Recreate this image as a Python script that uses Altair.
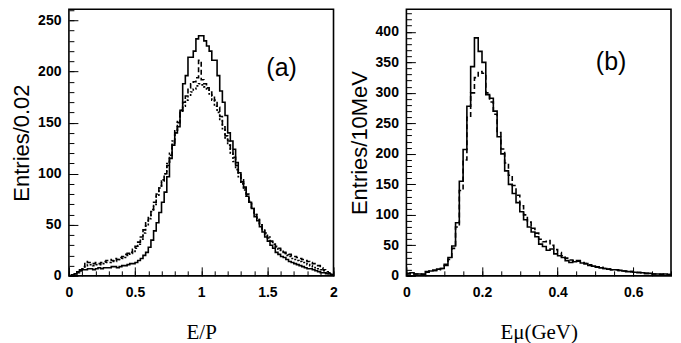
import altair as alt
import pandas as pd

# ---------------- data ----------------
EP_BIN = 0.02      # E/P histogram bin width
EMU_BIN = 0.01     # E_mu histogram bin width (GeV)

ep_solid = [0, 1, 2, 4, 5, 6, 6, 7, 7, 6,
            7, 8, 7, 8, 8, 8, 9, 9, 8, 9,
            10, 10, 11, 12, 12, 13, 15, 17, 20, 23,
            28, 35, 44, 52, 62, 72, 82, 97, 115, 128,
            140, 146, 162, 188, 196, 214, 214, 220, 232, 235,
            235, 230, 225, 220, 211, 211, 196, 181, 170, 157,
            140, 132, 124, 111, 101, 92, 86, 78, 72, 66,
            58, 54, 48, 43, 38, 34, 30, 27, 23, 21,
            19, 18, 16, 14, 13, 12, 11, 10, 9, 8,
            7, 7, 6, 5, 4, 3, 3, 2, 2, 1]

ep_dashed = [0, 1, 2, 4, 6, 9, 14, 13, 12, 12,
             13, 12, 13, 14, 15, 16, 15, 17, 16, 18,
             19, 21, 22, 23, 26, 29, 33, 38, 45, 52,
             58, 65, 72, 80, 88, 94, 100, 108, 118, 130,
             140, 150, 162, 170, 176, 184, 188, 190, 194, 211,
             192, 188, 184, 180, 176, 172, 165, 156, 146, 137,
             132, 124, 116, 108, 100, 94, 87, 80, 73, 67,
             60, 55, 50, 45, 41, 37, 34, 31, 29, 27,
             25, 23, 22, 21, 20, 19, 18, 17, 16, 15,
             14, 13, 12, 11, 10, 8, 6, 4, 3, 2]

ep_dotted = [0, 1, 2, 3, 5, 7, 10, 11, 11, 10,
             11, 11, 12, 12, 13, 13, 14, 14, 15, 16,
             17, 18, 20, 22, 24, 27, 31, 36, 42, 49,
             56, 63, 70, 78, 86, 93, 100, 110, 120, 132,
             142, 152, 160, 166, 172, 176, 180, 183, 186, 188,
             187, 185, 182, 178, 172, 166, 160, 152, 144, 135,
             128, 120, 112, 104, 97, 90, 84, 78, 72, 66,
             60, 55, 50, 46, 42, 38, 34, 31, 28, 26,
             24, 22, 20, 19, 17, 16, 15, 14, 13, 12,
             11, 10, 9, 8, 7, 6, 5, 3, 2, 1]

emu_solid = [4, 5, 3, 3, 2, 7, 8, 9, 11, 12,
             19, 30, 49, 87, 155, 207, 278, 343, 390, 368,
             350, 297, 291, 270, 228, 200, 172, 150, 135, 120,
             105, 92, 80, 72, 64, 52, 48, 42, 44, 36,
             33, 30, 25, 22, 23, 25, 21, 20, 17, 16,
             14, 13, 12, 11, 10, 10, 9, 8, 7, 7,
             6, 5, 5, 4, 4, 3, 3, 2, 3, 2]

emu_dashed = [3, 4, 3, 2, 3, 6, 8, 9, 10, 12,
              17, 27, 45, 80, 140, 190, 260, 300, 325, 335,
              332, 300, 285, 265, 235, 208, 185, 165, 148, 132,
              115, 100, 88, 78, 70, 60, 56, 58, 50, 43,
              38, 33, 29, 26, 25, 24, 22, 20, 18, 16,
              15, 14, 12, 11, 10, 10, 9, 8, 8, 7,
              6, 6, 5, 4, 4, 3, 3, 3, 2, 2]

# axis tick values
ep_x_major = [0, 0.5, 1, 1.5, 2]
ep_x_minor = [round(0.1 * i, 2) for i in range(21)]
ep_y_major = [0, 50, 100, 150, 200, 250]
ep_y_minor = list(range(0, 261, 10))

emu_x_major = [0, 0.2, 0.4, 0.6]
emu_x_minor = [round(0.05 * i, 2) for i in range(15)]
emu_y_major = [0, 50, 100, 150, 200, 250, 300, 350, 400]
emu_y_minor = list(range(0, 431, 10))


def step_frame(width, series):
    rows = []
    for name, vals in series.items():
        n = len(vals)
        for i in range(n + 1):
            rows.append({"x": round(i * width, 4), "y": vals[min(i, n - 1)], "s": name})
    return pd.DataFrame(rows)


SANS = "Liberation Sans"
SERIF = "Liberation Serif"
W, H = 265, 267


def panel(df, xdom, ydom, xmaj, xmin, ymaj, ymin, xtitle, ytitle,
          tag, tag_x, tag_y, dash_domain, dash_range, ytitle_pad):
    xs = alt.Scale(domain=xdom, nice=False, zero=False)
    ys = alt.Scale(domain=ydom, nice=False, zero=False)

    lines = alt.Chart(df).mark_line(
        interpolate="step-after", color="black", strokeWidth=1.6, clip=True
    ).encode(
        x=alt.X("x:Q", scale=xs, axis=alt.Axis(
            values=xmaj, ticks=False, domain=False, grid=False, format="~g",
            labelFont=SANS, labelFontSize=14, labelFontWeight="bold",
            labelColor="black", labelPadding=10, labelFlush=False,
            title=xtitle, titleFont=SERIF, titleFontSize=21,
            titleFontWeight="normal", titleColor="black", titlePadding=22)),
        y=alt.Y("y:Q", scale=ys, axis=alt.Axis(
            values=ymaj, ticks=False, domain=False, grid=False, format="d",
            labelFont=SANS, labelFontSize=14, labelFontWeight="bold",
            labelColor="black", labelPadding=8, labelFlush=False,
            title=ytitle, titleFont=SANS, titleFontSize=22,
            titleFontWeight="normal", titleColor="black", titlePadding=ytitle_pad)),
        strokeDash=alt.StrokeDash("s:N", scale=alt.Scale(domain=dash_domain, range=dash_range),
                                  legend=None),
    )

    def tick_layer(xv, yv, size):
        return alt.Chart(df).mark_line(opacity=0).encode(
            x=alt.X("x:Q", scale=xs, axis=alt.Axis(
                values=xv, orient="bottom", offset=-size, tickSize=size, labels=False,
                domain=False, grid=False, title=None, tickColor="black", tickWidth=1)),
            y=alt.Y("y:Q", scale=ys, axis=alt.Axis(
                values=yv, orient="left", offset=-size, tickSize=size, labels=False,
                domain=False, grid=False, title=None, tickColor="black", tickWidth=1)),
        )

    label = alt.Chart(pd.DataFrame({"t": [tag]})).mark_text(
        font=SANS, fontSize=25, color="black", align="center", baseline="middle"
    ).encode(text="t:N", x=alt.value(tag_x), y=alt.value(tag_y))

    return alt.layer(
        lines, tick_layer(xmaj, ymaj, 9), tick_layer(xmin, ymin, 5), label
    ).resolve_axis(x="independent", y="independent").properties(width=W, height=H)


df_a = step_frame(EP_BIN, {"dotted": ep_dotted, "dashed": ep_dashed, "solid": ep_solid})
df_b = step_frame(EMU_BIN, {"dashed": emu_dashed, "solid": emu_solid})

pa = panel(df_a, [0, 2], [0, 261], ep_x_major, ep_x_minor, ep_y_major, ep_y_minor,
           "E/P", "Entries/0.02", "(a)", 213, 59,
           ["solid", "dashed", "dotted"], [[1, 0], [5, 3], [2, 2]], 4)
pb = panel(df_b, [0, 0.7], [0, 437], emu_x_major, emu_x_minor, emu_y_major, emu_y_minor,
           "Eμ(GeV)", "Entries/10MeV", "(b)", 205, 53,
           ["solid", "dashed"], [[1, 0], [4, 3]], 4)

chart = alt.hconcat(pa, pb, spacing=73, bounds="flush").properties(
    padding={"left": 1, "top": 0, "right": 0, "bottom": 0},
    background="white",
).configure_view(stroke="black", strokeWidth=1.6)

chart.save("out.html", embed_options={"renderer": "svg", "actions": False})
